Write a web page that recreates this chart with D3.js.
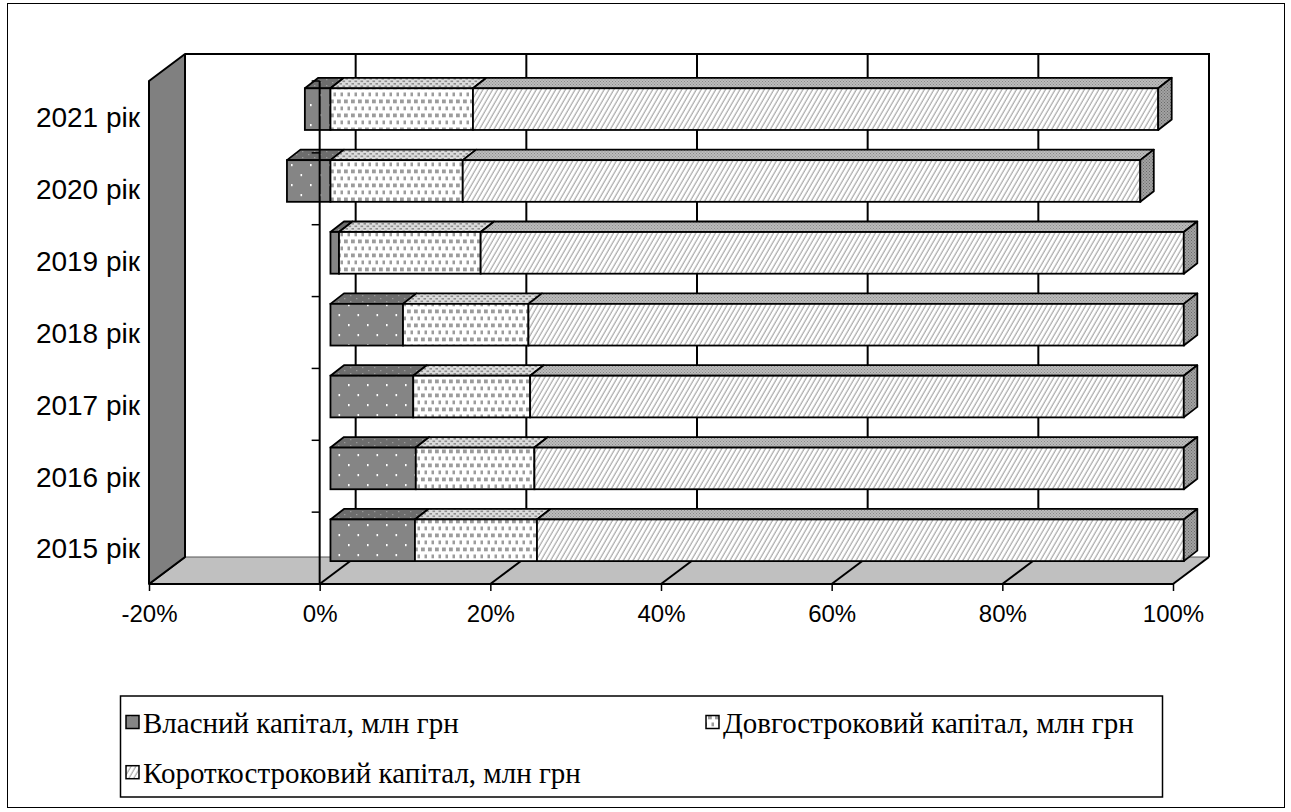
<!DOCTYPE html>
<html>
<head>
<meta charset="utf-8">
<script src="https://cdn.jsdelivr.net/npm/d3@7"></script>
<style>
  html, body { margin: 0; padding: 0; background: #fff; }
  svg { display: block; }
</style>
</head>
<body>
<svg id="chart" width="1291" height="812"></svg>
<script>
// Capital structure by year, % of total
const categories = ["2015 рік", "2016 рік", "2017 рік", "2018 рік", "2019 рік", "2020 рік", "2021 рік"];
const ownCapital   = [9.9, 10.0, 9.7, 8.5, 1.0, -5.1, -3.0];
const longTerm     = [14.3, 13.9, 13.7, 14.7, 16.6, 15.5, 16.7];
const shortTerm    = [75.8, 76.1, 76.6, 76.8, 82.4, 79.4, 80.3];
const seriesNames  = ["Власний капітал, млн грн", "Довгостроковий капітал, млн грн", "Короткостроковий капітал, млн грн"];
const tickValues   = [-20, 0, 20, 40, 60, 80, 100];

const svg = d3.select("#chart");
const defs = svg.append("defs");

// ---- fill patterns ----
function dotPattern(id, bg, dot, w, h, pts, r) {
  const p = defs.append("pattern").attr("id", id).attr("patternUnits", "userSpaceOnUse")
    .attr("width", w).attr("height", h);
  p.append("rect").attr("width", w).attr("height", h).attr("fill", bg);
  pts.forEach(([x, y]) => p.append("rect").attr("x", x).attr("y", y).attr("width", r[0]).attr("height", r[1]).attr("fill", dot));
}
dotPattern("own-front", "#858585", "#ffffff", 19, 20, [[6, 4], [15.5, 14]], [1.6, 2.2]);
dotPattern("own-top", "#6c6c6c", "#9a9a9a", 12, 6, [[2, 1], [8, 4]], [1.4, 1.2]);
dotPattern("long-front", "#ffffff", "#9c9c9c", 7, 14, [[1, 1.5], [4.5, 8.5]], [3.8, 3.8]);
dotPattern("long-top", "#dcdcdc", "#8e8e8e", 6, 5, [[0.5, 0.5], [3.5, 3]], [2.6, 1.6]);
dotPattern("short-top", "#bcbcbc", "#8a8a8a", 3, 3, [[0, 0], [1.5, 1.5]], [1, 1]);
dotPattern("short-side", "#a2a2a2", "#6a6a6a", 3, 3, [[0, 0], [1.5, 1.5]], [1, 1]);
{
  const p = defs.append("pattern").attr("id", "short-front").attr("patternUnits", "userSpaceOnUse")
    .attr("width", 4.2).attr("height", 10).attr("patternTransform", "rotate(30)");
  p.append("rect").attr("width", 4.2).attr("height", 10).attr("fill", "#ffffff");
  p.append("line").attr("x1", 1).attr("y1", 0).attr("x2", 1).attr("y2", 10)
    .attr("stroke", "#8c8c8c").attr("stroke-width", 0.9);
}
const frontFill = ["url(#own-front)", "url(#long-front)", "url(#short-front)"];
const topFill   = ["url(#own-top)", "url(#long-top)", "url(#short-top)"];

// ---- geometry of the 3-D plot box ----
const x = d3.scaleLinear().domain([-20, 100]).range([149, 1173]);
const plotTop = 81, plotBottom = 584;
const DX = 36, DY = 27;                 // full depth of the box
const faceDX = 10.8, faceDY = 7.8;      // bar front face sits inside the box
const barDX = 13.5, barDY = 10.5;       // depth of each bar
const y = d3.scaleBand().domain(categories.slice().reverse()).range([plotTop, plotBottom]);
const barH = y.bandwidth() * 0.58;

// back wall
svg.append("rect").attr("x", x(-20) + DX).attr("y", plotTop - DY)
  .attr("width", x(100) - x(-20)).attr("height", plotBottom - plotTop)
  .attr("fill", "#fff").attr("stroke", "none");
svg.append("path")
  .attr("d", `M${x(-20) + DX},${plotTop - DY}H${x(100) + DX}V${plotBottom - DY}`)
  .attr("fill", "none").attr("stroke", "#000").attr("stroke-width", 2);

// floor
svg.append("path")
  .attr("d", `M${x(-20)},${plotBottom}L${x(-20) + DX},${plotBottom - DY}H${x(100) + DX}L${x(100)},${plotBottom}Z`)
  .attr("fill", "#c0c0c0").attr("stroke", "#555").attr("stroke-width", 1);

// gridlines on the back wall and across the floor
tickValues.forEach(t => {
  svg.append("line").attr("x1", x(t) + DX).attr("x2", x(t) + DX)
    .attr("y1", plotTop - DY).attr("y2", plotBottom - DY)
    .attr("stroke", "#000").attr("stroke-width", 2);
  svg.append("line").attr("x1", x(t)).attr("y1", plotBottom)
    .attr("x2", x(t) + DX).attr("y2", plotBottom - DY)
    .attr("stroke", "#000").attr("stroke-width", 2);
});

// side wall
svg.append("path")
  .attr("d", `M${x(-20)},${plotTop}L${x(-20) + DX},${plotTop - DY}V${plotBottom - DY}L${x(-20)},${plotBottom}Z`)
  .attr("fill", "#808080").attr("stroke", "#000").attr("stroke-width", 2).attr("stroke-linejoin", "round");

// value axis along the floor front edge
svg.append("line").attr("x1", x(-20)).attr("x2", x(100)).attr("y1", plotBottom).attr("y2", plotBottom)
  .attr("stroke", "#000").attr("stroke-width", 2);
const xAxis = d3.axisBottom(x).tickValues(tickValues).tickSize(7).tickPadding(14)
  .tickFormat(d => d + "%");
const gx = svg.append("g").attr("transform", `translate(0,${plotBottom})`).call(xAxis);
gx.select(".domain").remove();
gx.selectAll(".tick line").attr("stroke", "#000").attr("stroke-width", 1.5);
gx.selectAll(".tick text").attr("fill", "#000")
  .style("font-family", "'Liberation Sans', Arial, sans-serif").style("font-size", "24px");

// ---- stacked bars ----
const rows = categories.map((c, i) => ({ cat: c, own: ownCapital[i], long: longTerm[i], short: shortTerm[i] }));
const keys = ["own", "long", "short"];
const stacked = d3.stack().keys(keys).offset(d3.stackOffsetDiverging)(rows);

const gBars = svg.append("g");
// draw from the top row down so nearer rows overlap correctly
categories.slice().reverse().forEach(cat => {
  const i = categories.indexOf(cat);
  const yTop = y(cat) + (y.bandwidth() - barH) / 2 - faceDY;
  const yBot = yTop + barH;
  const g = gBars.append("g");
  let rightMost = null;
  stacked.forEach((s, k) => {
    const [v0, v1] = s[i];
    if (v0 === v1) return;
    const x0 = x(v0) + faceDX, x1 = x(v1) + faceDX;
    // top face
    g.append("path")
      .attr("d", `M${x0},${yTop}L${x1},${yTop}L${x1 + barDX},${yTop - barDY}L${x0 + barDX},${yTop - barDY}Z`)
      .attr("fill", topFill[k]).attr("stroke", "#000").attr("stroke-width", 1.8).attr("stroke-linejoin", "round");
    // front face
    g.append("rect").attr("x", x0).attr("y", yTop).attr("width", x1 - x0).attr("height", barH)
      .attr("fill", frontFill[k]).attr("stroke", "#000").attr("stroke-width", 1.8);
    if (!rightMost || v1 > rightMost) rightMost = v1;
  });
  // right end face
  const xr = x(rightMost) + faceDX;
  g.append("path")
    .attr("d", `M${xr},${yTop}L${xr + barDX},${yTop - barDY}V${yBot - barDY}L${xr},${yBot}Z`)
    .attr("fill", "url(#short-side)").attr("stroke", "#000").attr("stroke-width", 1.8).attr("stroke-linejoin", "round");
});

// category axis at zero, in front of the bars
svg.append("line").attr("x1", x(0)).attr("x2", x(0)).attr("y1", plotTop).attr("y2", plotBottom)
  .attr("stroke", "#000").attr("stroke-width", 2);
const bounds = categories.map(c => y(c)).concat([plotBottom]);
bounds.forEach(b => svg.append("line").attr("x1", x(0) - 8).attr("x2", x(0)).attr("y1", b).attr("y2", b)
  .attr("stroke", "#000").attr("stroke-width", 1.5));

// category labels
svg.append("g").selectAll("text").data(categories).join("text")
  .attr("x", 140).attr("y", d => y(d) + y.bandwidth() / 2 + 3)
  .attr("text-anchor", "end").attr("dominant-baseline", "middle")
  .style("font-family", "'Liberation Sans', Arial, sans-serif").style("font-size", "28px")
  .text(d => d);

// ---- legend ----
const legend = svg.append("g");
legend.append("rect").attr("x", 120.5).attr("y", 696).attr("width", 1042).attr("height", 101)
  .attr("fill", "#fff").attr("stroke", "#000").attr("stroke-width", 1.5);
const legendItems = [
  { name: seriesNames[0], fill: frontFill[0], x: 143, y: 732.5 },
  { name: seriesNames[1], fill: frontFill[1], x: 723, y: 732.5 },
  { name: seriesNames[2], fill: frontFill[2], x: 143, y: 782.7 }
];
legendItems.forEach(it => {
  legend.append("rect").attr("x", it.x - 17).attr("y", it.y - 17).attr("width", 13).attr("height", 13)
    .attr("fill", it.fill).attr("stroke", "#000").attr("stroke-width", 1.5);
  legend.append("text").attr("x", it.x).attr("y", it.y)
    .style("font-family", "'Liberation Serif', 'Times New Roman', serif").style("font-size", "29px")
    .text(it.name);
});

// chart area border
svg.append("rect").attr("x", 7.5).attr("y", 3.5).attr("width", 1277).attr("height", 804)
  .attr("fill", "none").attr("stroke", "#000").attr("stroke-width", 1);
</script>
</body>
</html>
